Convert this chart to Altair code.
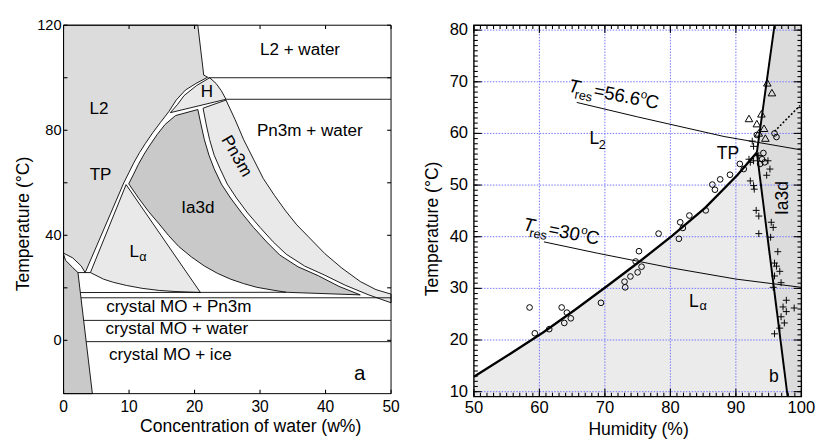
import altair as alt
import pandas as pd

FONT = "Liberation Sans"

# ---------------- panel a : phase diagram (water w% , temperature) ----------------
A_L2 = [(0, 120), (20.5, 120), (21.4, 101.0), (22.0, 100.2), (20.2, 97.8), (18.6, 95.3), (17.2, 91.5),
        (16.1, 87.2), (14.8, 83.0), (13.6, 79.0), (12.5, 75.0), (11.6, 71.5), (10.7, 67.5), (10.0, 64.0),
        (9.2, 60.0), (3.3, 25.8), (2.7, 28.3), (1.4, 31.4), (0, 33.2), (0, 120)]
A_CRYSTAL = [(0, 32.8), (0.3, 30.5), (1.4, 27.7), (2.2, 25.8), (4.4, -20.3), (0, -20.3), (0, 32.8)]
A_H = [(22.3, 100.0), (23.3, 97.8), (24.1, 95.0), (24.8, 91.8), (16.3, 86.7), (17.4, 89.8), (18.4, 93.2),
       (20.3, 97.0), (22.3, 100.0)]
A_IA3D = [(17.1, 85.6), (20.5, 87.9), (21.0, 82.0), (21.5, 76.4), (22.2, 70.5), (23.0, 65.3), (24.1, 59.5),
          (25.5, 54.2), (27.2, 48.5), (29.0, 43.0), (31.0, 37.5), (33.0, 32.5), (35.8, 28.0), (38.9, 24.6),
          (42.0, 20.6), (45.3, 17.3), (34.0, 18.3), (32.0, 19.1), (29.5, 20.2), (27.5, 21.6), (25.5, 23.3),
          (23.5, 25.5), (21.5, 28.3), (19.5, 31.8), (17.6, 35.7), (16.0, 40.0), (14.6, 44.3), (13.0, 49.0),
          (11.5, 54.0), (9.95, 59.6), (10.7, 63.3), (11.4, 66.9), (12.3, 70.9), (13.2, 74.4), (14.3, 78.4),
          (15.5, 82.2), (17.1, 85.6)]
A_LALPHA = [(4.1, 25.8), (9.55, 59.3), (20.9, 18.2), (17.0, 18.6), (14.6, 19.0), (12.0, 19.8), (9.6, 20.9),
            (7.6, 22.1), (6.1, 23.3), (4.1, 25.8)]
A_PN3M = [(21.3, 88.4), (24.8, 91.5), (26.2, 84.0), (27.5, 76.4), (29.0, 69.0), (30.5, 61.6), (32.2, 55.2),
          (33.9, 49.3), (35.6, 44.0), (37.4, 39.4), (39.9, 33.0), (42.5, 27.5), (45.3, 22.4), (47.7, 19.3),
          (50, 17.6), (50, 14.3), (46.5, 17.4), (43.0, 21.0), (39.8, 24.9), (36.8, 28.3), (34.0, 32.8),
          (32.0, 37.5), (30.0, 43.0), (28.1, 48.5), (26.4, 54.2), (25.0, 59.5), (23.9, 65.3), (23.0, 70.5),
          (22.3, 76.4), (21.8, 82.0), (21.3, 88.4)]
# straight phase boundaries: x1, y1, x2, y2
A_SEGMENTS = [(22.1, 100.0, 50, 100.0), (24.8, 91.8, 50, 91.8), (2.57, 18.2, 34.0, 18.3),
              (2.66, 16.2, 50, 16.2), (3.07, 7.6, 50, 7.6), (3.46, -0.5, 50, -0.5), (2.2, 25.8, 4.1, 25.8)]
A_LABELS = ["L2 + water", "H", "L2", "Pn3m + water", "TP", "Ia3d",
            "crystal MO + Pn3m", "crystal MO + water", "crystal MO + ice"]
A_LAB_X = [36.1, 21.9, 5.4, 37.6, 5.65, 20.5, 17.6, 17.3, 16.3]
A_LAB_Y = [110.4, 94.4, 87.9, 79.5, 62.8, 50.2, 12.8, 4.2, -5.7]
A_X_TICKS = [0, 10, 20, 30, 40, 50]
A_Y_TICKS = [0, 20, 40, 60, 80, 100, 120]
A_Y_TICKLABELS = [0, 40, 80, 120]
A_X_TITLE = "Concentration of water (w%)"
A_Y_TITLE = "Temperature (°C)"

# ---------------- panel b : humidity vs temperature ----------------
B_CURVE = [(50, 12.9), (55.5, 17.3), (60.5, 21.4), (65.4, 25.8), (70.4, 30.5), (75.3, 35.2), (80.3, 40.2),
           (85.3, 45.6), (90.2, 51.9), (93.2, 56.3)]
B_UPPER = [(93.2, 56.3), (95.9, 80.95)]
B_LOWER = [(93.2, 56.3), (97.9, 9.05)]
B_TRES56 = [(65.7, 66.0), (75.0, 63.2), (88.2, 59.4), (100, 56.8)]
B_TRES30 = [(60.7, 39.0), (68.9, 36.8), (80.0, 34.0), (90.0, 31.8), (100, 30.2)]
B_DOTTED = [(95.9, 60.4), (99.8, 65.4)]
B_CIRCLES = [(58.5, 26.3), (59.3, 21.3), (61.5, 22.1), (63.4, 26.3), (64.2, 25.3), (63.8, 23.3), (64.8, 24.2),
             (69.4, 27.2), (73.0, 31.3), (73.1, 30.2), (73.9, 32.3), (74.7, 35.2), (75.0, 33.1), (75.2, 37.2),
             (75.6, 34.2), (78.2, 40.6), (81.3, 39.6), (81.5, 42.8), (81.9, 41.7), (82.9, 44.1), (85.4, 45.1),
             (86.4, 50.1), (86.8, 49.1), (87.6, 51.1), (89.1, 52.0), (90.6, 54.1), (91.2, 53.1), (93.2, 59.7),
             (94.2, 56.2), (94.0, 55.0), (93.7, 54.1), (94.4, 54.4), (95.9, 60.0), (96.2, 59.3)]
B_TRIANGLES = [(94.8, 69.8), (95.5, 67.9), (92.0, 62.9), (93.9, 63.8), (93.2, 61.9), (94.3, 61.0),
               (94.5, 59.1), (93.5, 60.1)]
B_CROSSES = [(92.5, 58.5), (92.7, 57.5), (92.0, 55.0), (92.7, 54.7), (93.5, 55.7), (94.9, 54.7), (95.2, 53.1),
             (94.7, 51.9), (92.2, 50.8), (92.7, 49.9), (92.8, 49.2), (93.1, 45.1), (93.5, 44.0), (93.5, 40.6),
             (95.4, 42.8), (95.7, 41.8), (95.3, 39.9), (96.4, 37.1), (95.9, 34.9), (96.2, 34.3), (96.7, 33.3),
             (95.9, 32.4), (96.9, 31.1), (95.7, 30.2), (97.7, 27.7), (97.2, 26.4), (98.9, 26.2), (97.7, 25.5),
             (96.9, 24.5), (97.4, 23.3), (96.7, 22.3), (95.9, 21.2), (92.2, 54.4)]
B_X_MAJOR = [50, 60, 70, 80, 90, 100]
B_Y_MAJOR = [10, 20, 30, 40, 50, 60, 70, 80]
B_X_MINOR = list(range(50, 101))
B_Y_MINOR = list(range(10, 81))
B_GRID_X = [60, 70, 80, 90]
B_GRID_Y = [10, 20, 30, 40, 50, 60, 70, 80]
B_LABELS = ["TP", "b"]
B_LAB_X = [88.8, 95.8]
B_LAB_Y = [56.0, 12.8]
B_X_TITLE = "Humidity (%)"
B_Y_TITLE = "Temperature (°C)"

XA = alt.Scale(domain=[0, 50], nice=False, zero=False)
YA = alt.Scale(domain=[-20.3, 120], nice=False, zero=False)
XB = alt.Scale(domain=[50, 100], nice=False, zero=False)
YB = alt.Scale(domain=[9.05, 80.95], nice=False, zero=False)
WA, HA = 336, 378
WB, HB = 336, 381


def pts(points):
    return pd.DataFrame({"x": [p[0] for p in points], "y": [p[1] for p in points],
                         "i": list(range(len(points)))})


def tick_rules(values, xs, ys, w, h, length, vertical):
    """inward tick marks on both opposite sides of the frame"""
    df = pd.DataFrame({"v": values})
    if vertical:
        enc1 = dict(x=alt.X("v:Q", scale=xs, axis=None), y=alt.value(h), y2=alt.value(h - length))
        enc2 = dict(x=alt.X("v:Q", scale=xs, axis=None), y=alt.value(0), y2=alt.value(length))
    else:
        enc1 = dict(y=alt.Y("v:Q", scale=ys, axis=None), x=alt.value(0), x2=alt.value(length))
        enc2 = dict(y=alt.Y("v:Q", scale=ys, axis=None), x=alt.value(w), x2=alt.value(w - length))
    return [alt.Chart(df).mark_rule(color="black", strokeWidth=1.1).encode(**enc1),
            alt.Chart(df).mark_rule(color="black", strokeWidth=1.1).encode(**enc2)]


def x_tick_labels(values, xs, y_px, fs):
    df = pd.DataFrame({"v": values, "t": [str(v) for v in values]})
    return alt.Chart(df).mark_text(font=FONT, fontSize=fs, color="black", align="center",
                                   baseline="top").encode(
        x=alt.X("v:Q", scale=xs, axis=None), y=alt.value(y_px), text="t:N")


def y_tick_labels(values, ys, x_px, fs):
    df = pd.DataFrame({"v": values, "t": [str(v) for v in values]})
    return alt.Chart(df).mark_text(font=FONT, fontSize=fs, color="black", align="right",
                                   baseline="middle").encode(
        y=alt.Y("v:Q", scale=ys, axis=None), x=alt.value(x_px), text="t:N")


def title_text(txt, x_px, y_px, angle=0, baseline="top"):
    df = pd.DataFrame({"t": [txt]})
    kw = dict(font=FONT, fontSize=18, color="black", align="center", baseline=baseline)
    if angle:
        kw["angle"] = angle
    return alt.Chart(df).mark_text(**kw).encode(x=alt.value(x_px), y=alt.value(y_px), text="t:N")


def polygon(points, fill, xs, ys, stroke="black", sw=0.9):
    mk = dict(fill=fill, interpolate="linear", strokeJoin="miter")
    if stroke:
        mk.update(stroke=stroke, strokeWidth=sw)
    else:
        mk.update(strokeWidth=0)
    return alt.Chart(pts(points)).mark_line(**mk).encode(
        x=alt.X("x:Q", scale=xs, axis=None), y=alt.Y("y:Q", scale=ys, axis=None), order="i:Q")


def path(points, xs, ys, sw=1.0, dash=None):
    mk = dict(color="black", strokeWidth=sw, interpolate="linear")
    if dash:
        mk["strokeDash"] = dash
    return alt.Chart(pts(points)).mark_line(**mk).encode(
        x=alt.X("x:Q", scale=xs, axis=None), y=alt.Y("y:Q", scale=ys, axis=None), order="i:Q")


def texts(labels, xv, yv, xs, ys, size, **kw):
    df = pd.DataFrame({"x": xv, "y": yv, "t": labels})
    return alt.Chart(df).mark_text(font=FONT, fontSize=size, color="black", **kw).encode(
        x=alt.X("x:Q", scale=xs, axis=None), y=alt.Y("y:Q", scale=ys, axis=None), text="t:N")


def frame(xs, ys, dom_x, dom_y, sw):
    df = pd.DataFrame({"x1": [dom_x[0]], "x2": [dom_x[1]], "y1": [dom_y[0]], "y2": [dom_y[1]]})
    return alt.Chart(df).mark_rect(fill="transparent", stroke="black", strokeWidth=sw).encode(
        x=alt.X("x1:Q", scale=xs, axis=None), x2="x2:Q",
        y=alt.Y("y1:Q", scale=ys, axis=None), y2="y2:Q")


def pieces(ax, ay, parts, angle, xs, ys):
    out = []
    for txt, along, perp, size, style in parts:
        df = pd.DataFrame({"x": [ax], "y": [ay], "t": [txt]})
        out.append(alt.Chart(df).mark_text(font=FONT, fontSize=size, fontStyle=style, align="left",
                                           baseline="alphabetic", angle=angle, dx=along, dy=perp,
                                           color="black").encode(
            x=alt.X("x:Q", scale=xs, axis=None), y=alt.Y("y:Q", scale=ys, axis=None), text="t:N"))
    return out


# ---------- build panel a ----------
LIGHT = "#e9e9e9"
MID = "#dcdcdc"
DARK = "#c9c9c9"

a_layers = [
    polygon(A_L2, MID, XA, YA),
    polygon(A_CRYSTAL, DARK, XA, YA),
    polygon(A_H, LIGHT, XA, YA),
    polygon(A_IA3D, DARK, XA, YA),
    polygon(A_LALPHA, LIGHT, XA, YA),
    polygon(A_PN3M, LIGHT, XA, YA),
]
seg_df = pd.DataFrame(A_SEGMENTS, columns=["x1", "y1", "x2", "y2"])
a_layers.append(alt.Chart(seg_df).mark_rule(color="black", strokeWidth=0.9).encode(
    x=alt.X("x1:Q", scale=XA, axis=None), x2="x2:Q", y=alt.Y("y1:Q", scale=YA, axis=None), y2="y2:Q"))
a_layers.append(texts(A_LABELS, A_LAB_X, A_LAB_Y, XA, YA, 17.5))
a_layers.append(texts(["Pn3m"], [26.4], [70.1], XA, YA, 17.5, angle=60))
a_layers.append(texts(["L"], [10.8], [33.6], XA, YA, 17.5))
a_layers.append(texts(["α"], [12.1], [31.7], XA, YA, 13))
a_layers.append(texts(["a"], [45.2], [-12.8], XA, YA, 21))
a_layers += tick_rules(A_X_TICKS, XA, YA, WA, HA, 4, True)
a_layers += tick_rules(A_Y_TICKS, XA, YA, WA, HA, 4, False)
a_layers.append(frame(XA, YA, [0, 50], [-20.3, 120], 1))
a_layers.append(x_tick_labels(A_X_TICKS, XA, HA + 6, 16))
a_layers.append(y_tick_labels(A_Y_TICKLABELS, YA, -2, 15))
a_layers.append(title_text(A_X_TITLE, 192, HA + 25))
a_layers.append(title_text(A_Y_TITLE, -35, 204, angle=270, baseline="alphabetic"))

panel_a = alt.layer(*a_layers).properties(width=WA, height=HA)

# ---------- build panel b ----------
B_LIGHT = "#ebebeb"
B_MID = "#dcdcdc"
b_fill_l = [(50, 9.05)] + B_CURVE + [B_LOWER[1], (50, 9.05)]
b_fill_r = [B_UPPER[0], B_UPPER[1], (100, 80.95), (100, 9.05), B_LOWER[1], B_UPPER[0]]

b_layers = [
    polygon(b_fill_l, B_LIGHT, XB, YB, stroke=None),
    polygon(b_fill_r, B_MID, XB, YB, stroke=None),
]
gx = pd.DataFrame({"v": B_GRID_X})
gy = pd.DataFrame({"v": B_GRID_Y})
b_layers.append(alt.Chart(gx).mark_rule(color="#7272ff", strokeWidth=1, strokeDash=[1.5, 1.5]).encode(
    x=alt.X("v:Q", scale=XB, axis=None)))
b_layers.append(alt.Chart(gy).mark_rule(color="#7272ff", strokeWidth=1, strokeDash=[1.5, 1.5]).encode(
    y=alt.Y("v:Q", scale=YB, axis=None)))
b_layers.append(path(B_TRES56, XB, YB, 1.0))
b_layers.append(path(B_TRES30, XB, YB, 1.0))
b_layers.append(path(B_CURVE, XB, YB, 2.4))
b_layers.append(path(B_UPPER, XB, YB, 2.0))
b_layers.append(path(B_LOWER, XB, YB, 2.0))
b_layers.append(path(B_DOTTED, XB, YB, 1.6, dash=[2, 2]))
b_layers.append(alt.Chart(pts(B_CIRCLES)).mark_point(shape="circle", size=34, filled=False, color="black",
                                                    strokeWidth=1, opacity=1).encode(
    x=alt.X("x:Q", scale=XB, axis=None), y=alt.Y("y:Q", scale=YB, axis=None)))
b_layers.append(alt.Chart(pts(B_TRIANGLES)).mark_point(shape="triangle-up", size=60, filled=False,
                                                      color="black", strokeWidth=1, opacity=1).encode(
    x=alt.X("x:Q", scale=XB, axis=None), y=alt.Y("y:Q", scale=YB, axis=None)))
b_layers.append(alt.Chart(pts(B_CROSSES)).mark_point(shape="M-1,0L1,0M0,-1L0,1", size=50, filled=False,
                                                    color="black", strokeWidth=1, opacity=1).encode(
    x=alt.X("x:Q", scale=XB, axis=None), y=alt.Y("y:Q", scale=YB, axis=None)))
b_layers.append(texts(B_LABELS, B_LAB_X, B_LAB_Y, XB, YB, 18))
b_layers.append(texts(["Ia3d"], [97.2], [47.5], XB, YB, 18, angle=270))
b_layers.append(texts(["L"], [68.4], [58.9], XB, YB, 18))
b_layers.append(texts(["2"], [69.6], [57.7], XB, YB, 13))
b_layers.append(texts(["L"], [83.6], [27.4], XB, YB, 18))
b_layers.append(texts(["α"], [85.0], [26.6], XB, YB, 13))
TRES56_PARTS = [("T", 0, 0, 19, "italic"), ("res", 7.8, 5.5, 13, "normal"), ("=56.6", 26.5, 0, 19, "normal"),
                ("o", 74.5, -8, 12, "normal"), ("C", 80.5, 0, 19, "normal")]
TRES30_PARTS = [("T", 0, 0, 19, "italic"), ("res", 7.8, 5.5, 13, "normal"), ("=30", 26.5, 0, 19, "normal"),
                ("o", 59.5, -8, 12, "normal"), ("C", 65.5, 0, 19, "normal")]
b_layers += pieces(64.3, 68.1, TRES56_PARTS, 11, XB, YB)
b_layers += pieces(57.4, 41.3, TRES30_PARTS, 11, XB, YB)
b_layers += tick_rules(B_X_MINOR, XB, YB, WB, HB, 4, True)
b_layers += tick_rules(B_Y_MINOR, XB, YB, WB, HB, 4, False)
b_layers += tick_rules(B_X_MAJOR, XB, YB, WB, HB, 8, True)
b_layers += tick_rules(B_Y_MAJOR, XB, YB, WB, HB, 8, False)
b_layers.append(frame(XB, YB, [50, 100], [9.05, 80.95], 1.4))
b_layers.append(x_tick_labels(B_X_MAJOR, XB, HB + 4, 17))
b_layers.append(y_tick_labels(B_Y_MAJOR, YB, -6, 17))
b_layers.append(title_text(B_X_TITLE, 169, HB + 25))
b_layers.append(title_text(B_Y_TITLE, -37, 209, angle=270, baseline="alphabetic"))

panel_b = alt.layer(*b_layers).properties(width=WB, height=HB)

chart = alt.hconcat(panel_a, panel_b, spacing=25).properties(
    padding={"left": 8, "top": 5, "right": 0, "bottom": 0}).configure_view(strokeWidth=0)
chart.save("out.html", embed_options={"renderer": "svg", "actions": False})
